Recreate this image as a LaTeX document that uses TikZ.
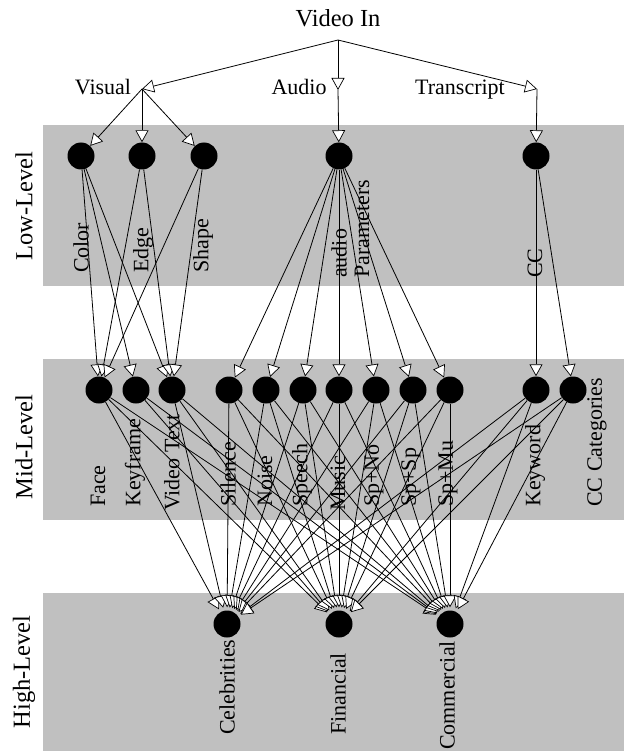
\documentclass[tikz,border=0pt]{standalone}
\usepackage{fontspec}
\setmainfont{Liberation Serif}
\usetikzlibrary{arrows.meta}
\definecolor{bandgray}{RGB}{192,192,192}
\begin{document}
\begin{tikzpicture}[x=1pt,y=-1pt,
  dot/.style={circle,fill=black,inner sep=0pt,minimum size=27pt},
  lab/.style={font=\fontsize{22}{24}\selectfont, inner sep=0pt},
  vlab/.style={lab, rotate=90, anchor=west},
  title/.style={font=\fontsize{24.5}{26}\selectfont, inner sep=0pt},
  arr/.style={-{Triangle[fill=white,length=12pt,width=13pt,line width=0.7pt]}, line width=0.8pt}
]
\useasboundingbox (0,0) rectangle (624,751);
% bands
\fill[bandgray] (43,125) rectangle (624,286);
\fill[bandgray] (43,359) rectangle (624,520);
\fill[bandgray] (43,593) rectangle (624,751);
% level labels
\node[title, rotate=90] (llow) at (24,206) {Low-Level};
\node[title, rotate=90] (lmid) at (24,447) {Mid-Level};
\node[title, rotate=90] (lhigh) at (24,672) {High-Level};
% top
\node[title, anchor=base] (vin) at (338,27) {Video In};
\coordinate (j0) at (338,40);
\node[lab, anchor=base] (visual) at (103,95) {Visual};
\node[lab, anchor=base] (audiot) at (299,95) {Audio};
\node[lab, anchor=base] (transcript) at (460,95) {Transcript};
\coordinate (jv) at (142,89);
\coordinate (ja) at (338,90);
\coordinate (jt) at (537,89);
% low nodes
\node[dot] (color) at (81,156) {};
\node[dot] (edge) at (142,156) {};
\node[dot] (shape) at (204,156) {};
\node[dot] (aud) at (339,156) {};
\node[dot] (cc) at (536,156) {};
% mid nodes
\node[dot] (face) at (99,390) {};
\node[dot] (keyframe) at (136,390) {};
\node[dot] (vtext) at (172,390) {};
\node[dot] (silence) at (229,390) {};
\node[dot] (noise) at (266,390) {};
\node[dot] (speech) at (303,390) {};
\node[dot] (music) at (339,390) {};
\node[dot] (spno) at (376,390) {};
\node[dot] (spsp) at (413,390) {};
\node[dot] (spmu) at (450,390) {};
\node[dot] (keyword) at (536,390) {};
\node[dot] (cccat) at (573,390) {};
% high nodes
\node[dot] (celeb) at (227,624) {};
\node[dot] (fin) at (339,624) {};
\node[dot] (comm) at (450,624) {};
% low labels
\node[vlab] (tcolor) at (81,273) {Color};
\node[vlab] (tedge) at (143,273) {Edge};
\node[vlab] (tshape) at (203,273) {Shape};
\node[vlab] (taudio) at (339,278) {audio};
\node[vlab] (tparam) at (362,278) {Parameters};
\node[vlab] (tcc) at (535,278) {CC};
% mid labels
\node[vlab] (tface) at (98,507) {Face};
\node[vlab] (tkey) at (135,507) {Keyframe};
\node[vlab] (tvt) at (172,511) {Video Text};
\node[vlab] (tsil) at (228,507) {Silence};
\node[vlab] (tnoi) at (265,507) {Noise};
\node[vlab] (tspe) at (302,507) {Speech};
\node[vlab] (tmus) at (338,511) {Music};
\node[vlab] (tspno) at (374,507) {Sp+No};
\node[vlab] (tspsp) at (411,507) {Sp+Sp};
\node[vlab] (tspmu) at (448,507) {Sp+Mu};
\node[vlab] (tkw) at (535,507) {Keyword};
\node[vlab] (tccc) at (597,507) {CC Categories};
% high labels
\node[vlab] (tcel) at (227,735) {Celebrities};
\node[vlab] (tfin) at (338,735) {Financial};
\node[vlab] (tcom) at (447,750) {Commercial};
% mid -> high connectors
\foreach \a/\b in {face/celeb,face/fin,face/comm,keyframe/fin,keyframe/comm,
  vtext/celeb,vtext/fin,vtext/comm,silence/celeb,silence/fin,silence/comm,
  noise/celeb,noise/fin,noise/comm,speech/celeb,speech/fin,speech/comm,
  music/celeb,music/fin,music/comm,spno/celeb,spno/fin,spno/comm,
  spsp/celeb,spsp/fin,spsp/comm,spmu/celeb,spmu/fin,spmu/comm,
  keyword/celeb,keyword/fin,keyword/comm,cccat/celeb,cccat/fin,cccat/comm}
  \draw[arr, shorten >=3pt] (\a) -- (\b);
% low -> mid connectors
\foreach \a/\b in {color/face,color/keyframe,color/vtext,edge/face,edge/vtext,
  shape/face,shape/vtext,aud/silence,aud/noise,aud/speech,aud/music,aud/spno,
  aud/spsp,aud/spmu,cc/keyword,cc/cccat}
  \draw[arr] (\a) -- (\b);
% top connectors
\draw[arr] (j0) -- (jv);
\draw[arr] (j0) -- (ja);
\draw[arr] (j0) -- (jt);
\draw[arr] (jv) -- (color);
\draw[arr] (jv) -- (edge);
\draw[arr] (jv) -- (shape);
\draw[arr] (ja) -- (aud);
\draw[arr] (jt) -- (cc);
\end{tikzpicture}
\end{document}
